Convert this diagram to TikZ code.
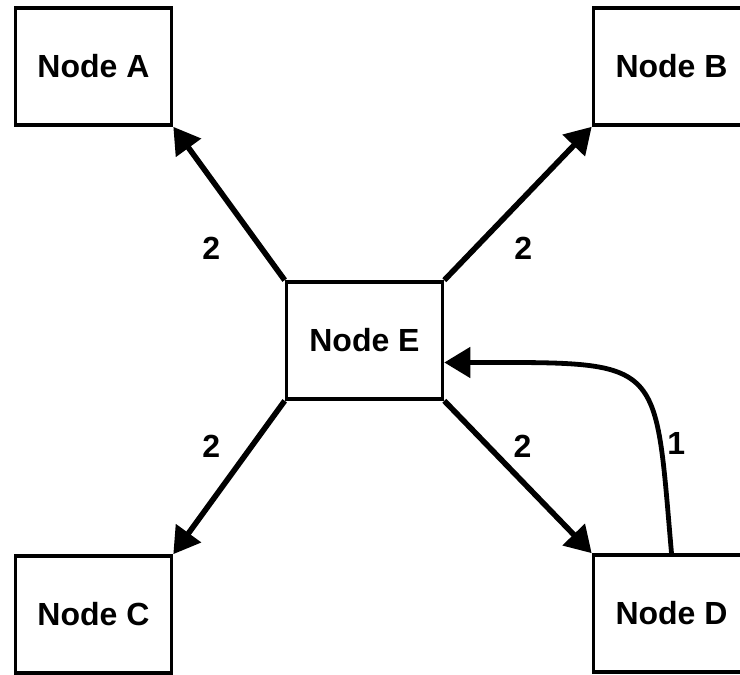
\documentclass[tikz,border=0pt]{standalone}
\usepackage{fontspec}
\setmainfont{Liberation Sans}
\usepackage{tikz}
\usetikzlibrary{
  arrows.meta,
  positioning
}
\usepackage{xcolor}

\begin{document}
\begin{tikzpicture}[
  x=0.5pt, y=0.5pt,
  box/.style={draw, line width=1.8pt, minimum width=78pt, minimum height=58.5pt,
    font=\fontsize{16}{19}\selectfont\bfseries, align=center},
  arrow/.style={-{Triangle[length=13pt, width=15pt]}, line width=2.8pt},
  weight/.style={font=\fontsize{16}{19}\selectfont\bfseries, inner sep=0pt}
]
  \useasboundingbox (0,0) rectangle (740,675);

  \node[box] (nE) at (364.5,334.5) {Node E};
  \node[box] (nA) at (93.5,608.5) {Node A};
  \node[box] (nB) at (671.5,608.5) {Node B};
  \node[box] (nC) at (93.5,60.5) {Node C};
  \node[box] (nD) at (671.5,61.5) {Node D};

  \draw[arrow] (nE.north west) -- node[weight, pos=0.21, xshift=-25pt] {2} (nA.south east);
  \draw[arrow] (nE.north east) -- node[weight, pos=0.21, xshift=24pt] {2} (nB.south west);
  \draw[arrow] (nE.south west) -- node[weight, pos=0.30, xshift=-20pt] {2} (nC.north east);
  \draw[arrow] (nE.south east) -- node[weight, pos=0.30, xshift=17pt] {2} (nD.north west);

  \draw[arrow, line width=2.4pt] (nD.north) to[out=95, in=0, out looseness=1.7, in looseness=1.9]
    node[weight, pos=0.24, xshift=8pt] {1} ([yshift=-11pt]nE.east);

\end{tikzpicture}
\end{document}
